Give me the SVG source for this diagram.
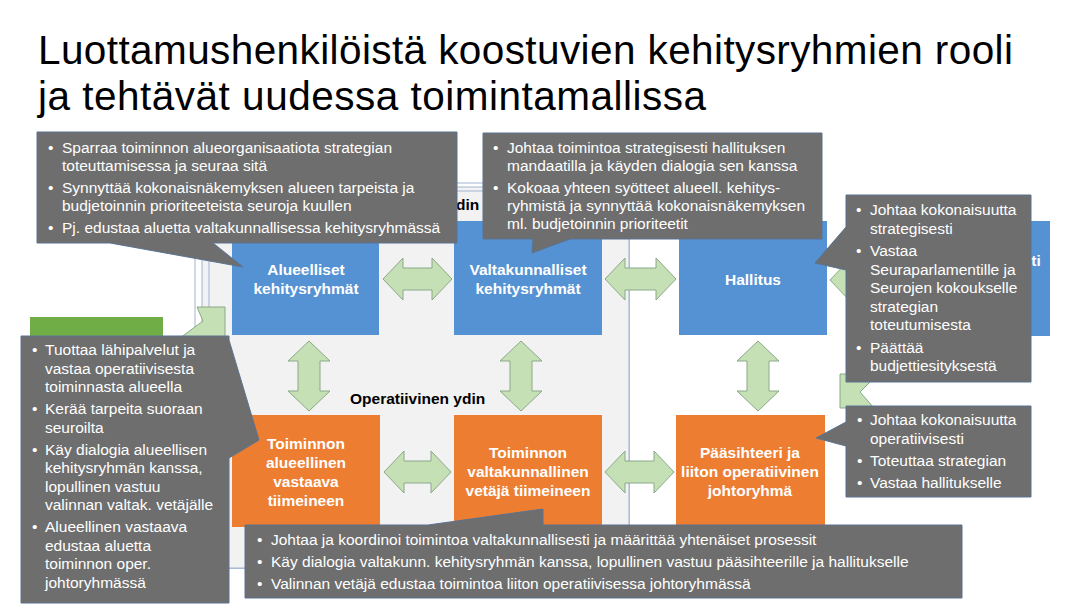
<svg xmlns="http://www.w3.org/2000/svg" width="1080" height="608" viewBox="0 0 1080 608">
<style>
.title{font-family:"Liberation Sans",Arial,sans-serif;font-size:40.5px;fill:#000}
.frame{fill:none;stroke:#9fb3cf;stroke-width:1}
.panel{fill:#f2f2f2;stroke:#9fb3cf;stroke-width:1}
.blue{fill:#5592d3}
.orange{fill:#ed7d31}
.green{fill:#70ad47}
.nt{font-family:"Liberation Sans",Arial,sans-serif;font-size:15.5px;font-weight:bold;fill:#fff;text-anchor:middle}
.lbl{font-family:"Liberation Sans",Arial,sans-serif;font-size:15.5px;font-weight:bold;fill:#000}
.arr{fill:#c6e0b5;stroke:#8aa88a;stroke-width:1}
.co{fill:#6e6e6e;stroke:#5b7391;stroke-width:1}
.ct{font-family:"Liberation Sans",Arial,sans-serif;font-size:15.5px;fill:#fff}
</style>
<rect width="1080" height="608" fill="#fff"/>
<g id="title">
<text class="title" x="38" y="64" textLength="975" lengthAdjust="spacing">Luottamushenkilöistä koostuvien kehitysryhmien rooli</text>
<text class="title" x="38" y="109.5" textLength="668" lengthAdjust="spacing">ja tehtävät uudessa toimintamallissa</text>
</g>
<g id="core-panel">
<rect class="frame" x="195" y="183" width="434" height="385"/>
<rect class="panel" x="202" y="187" width="427" height="381"/>
<rect class="panel" x="209" y="191" width="420" height="377"/>
<text class="lbl" x="456" y="210">din</text>
<text class="lbl" x="350" y="404">Operatiivinen ydin</text>
</g>
<g id="green-box"><rect class="green" x="30" y="317" width="133" height="24"/></g>
<g id="alueelliset"><rect class="blue" x="232" y="221" width="147" height="114"/>
<text class="nt" x="306" y="275">Alueelliset</text><text class="nt" x="306" y="294">kehitysryhmät</text></g>
<g id="valtakunnalliset"><rect class="blue" x="454" y="221" width="148" height="114"/>
<text class="nt" x="528" y="275">Valtakunnalliset</text><text class="nt" x="528" y="294">kehitysryhmät</text></g>
<g id="hallitus"><rect class="blue" x="679" y="221" width="148" height="114"/>
<text class="nt" x="753" y="285">Hallitus</text></g>
<g id="right-box"><rect class="blue" x="902" y="221" width="148" height="115"/>
<text class="nt" x="1036" y="266">ti</text></g>
<g id="toiminnon-alueellinen"><rect class="orange" x="232" y="415" width="148" height="112"/>
<text class="nt" x="306" y="449">Toiminnon</text><text class="nt" x="306" y="468">alueellinen</text><text class="nt" x="306" y="487">vastaava</text><text class="nt" x="306" y="506">tiimeineen</text></g>
<g id="toiminnon-valtakunnallinen"><rect class="orange" x="454" y="415" width="148" height="112"/>
<text class="nt" x="528" y="458">Toiminnon</text><text class="nt" x="528" y="477">valtakunnallinen</text><text class="nt" x="528" y="496">vetäjä tiimeineen</text></g>
<g id="paasihteeri"><rect class="orange" x="676" y="415" width="149" height="112"/>
<text class="nt" x="750" y="458">Pääsihteeri ja</text><text class="nt" x="750" y="477">liiton operatiivinen</text><text class="nt" x="750" y="496">johtoryhmä</text></g>
<g id="connectors">
<polygon class="arr" points="180,338 203,321 197,307 225,307 225,338"/>
<polygon class="arr" points="383,279 403,258 403,268 432,268 432,258 452,279 432,300 432,290 403,290 403,300"/>
<polygon class="arr" points="605,279 625,258 625,268 656,268 656,258 676,279 656,300 656,290 625,290 625,300"/>
<polygon class="arr" points="830,280 850,259 850,269 980,269 980,259 1000,280 980,301 980,291 850,291 850,301"/>
<polygon class="arr" points="384,472 404,451 404,461 431,461 431,451 451,472 431,493 431,483 404,483 404,493"/>
<polygon class="arr" points="605,472 625,451 625,461 654,461 654,451 674,472 654,493 654,483 625,483 625,493"/>
<polygon class="arr" points="309,341 330,361 320,361 320,391 330,391 309,411 288,391 298,391 298,361 288,361"/>
<polygon class="arr" points="521,341 542,361 532,361 532,391 542,391 521,411 500,391 510,391 510,361 500,361"/>
<polygon class="arr" points="758,341 779,361 769,361 769,391 779,391 758,411 737,391 747,391 747,361 737,361"/>
<polygon class="arr" points="840,374 878,374 860,392 874,408 840,408"/>
</g>
<g id="callout-alueelliset">
<path class="co" d="M37,132 H457 V243 H213 L243,267 L110,243 H37 Z"/>
<text class="ct" x="48" y="153">•</text><text class="ct" x="62" y="153">Sparraa toiminnon alueorganisaatiota strategian</text>
<text class="ct" x="62" y="171">toteuttamisessa ja seuraa sitä</text>
<text class="ct" x="48" y="193">•</text><text class="ct" x="62" y="193">Synnyttää kokonaisnäkemyksen alueen tarpeista ja</text>
<text class="ct" x="62" y="211">budjetoinnin prioriteeteista seuroja kuullen</text>
<text class="ct" x="48" y="233">•</text><text class="ct" x="62" y="233">Pj. edustaa aluetta valtakunnallisessa kehitysryhmässä</text>
</g>
<g id="callout-valtakunnalliset">
<path class="co" d="M483,133 H822 V239 H570 L532,253 L533,239 H483 Z"/>
<text class="ct" x="493" y="153">•</text><text class="ct" x="507" y="153">Johtaa toimintoa strategisesti hallituksen</text>
<text class="ct" x="507" y="171">mandaatilla ja käyden dialogia sen kanssa</text>
<text class="ct" x="493" y="193">•</text><text class="ct" x="507" y="193">Kokoaa yhteen syötteet alueell. kehitys-</text>
<text class="ct" x="507" y="211">ryhmistä ja synnyttää kokonaisnäkemyksen</text>
<text class="ct" x="507" y="229">ml. budjetoinnin prioriteetit</text>
</g>
<g id="callout-hallitus">
<path class="co" d="M846,195 H1031 V382 H846 V270 L815,263 L846,227 Z"/>
<text class="ct" x="856" y="215">•</text><text class="ct" x="870" y="215">Johtaa kokonaisuutta</text>
<text class="ct" x="870" y="233.5">strategisesti</text>
<text class="ct" x="856" y="256">•</text><text class="ct" x="870" y="256">Vastaa</text>
<text class="ct" x="870" y="274.5">Seuraparlamentille ja</text>
<text class="ct" x="870" y="293">Seurojen kokoukselle</text>
<text class="ct" x="870" y="311.5">strategian</text>
<text class="ct" x="870" y="330">toteutumisesta</text>
<text class="ct" x="856" y="352.5">•</text><text class="ct" x="870" y="352.5">Päättää</text>
<text class="ct" x="870" y="371">budjettiesityksestä</text>
</g>
<g id="callout-toiminnon-alueellinen">
<path class="co" d="M21,336 H229 V340 L259,440 L229,458 V603 H21 Z"/>
<text class="ct" x="32" y="355">•</text><text class="ct" x="45" y="355">Tuottaa lähipalvelut ja</text>
<text class="ct" x="45" y="373.5">vastaa operatiivisesta</text>
<text class="ct" x="45" y="392">toiminnasta alueella</text>
<text class="ct" x="32" y="414">•</text><text class="ct" x="45" y="414">Kerää tarpeita suoraan</text>
<text class="ct" x="45" y="432.5">seuroilta</text>
<text class="ct" x="32" y="454.5">•</text><text class="ct" x="45" y="454.5">Käy dialogia alueellisen</text>
<text class="ct" x="45" y="473">kehitysryhmän kanssa,</text>
<text class="ct" x="45" y="491.5">lopullinen vastuu</text>
<text class="ct" x="45" y="510">valinnan valtak. vetäjälle</text>
<text class="ct" x="32" y="532">•</text><text class="ct" x="45" y="532">Alueellinen vastaava</text>
<text class="ct" x="45" y="550.5">edustaa aluetta</text>
<text class="ct" x="45" y="569">toiminnon oper.</text>
<text class="ct" x="45" y="587.5">johtoryhmässä</text>
</g>
<g id="callout-paasihteeri">
<path class="co" d="M846,406 H1031 V497 H846 V446 L816,438 L846,422 Z"/>
<text class="ct" x="857" y="425">•</text><text class="ct" x="870" y="425">Johtaa kokonaisuutta</text>
<text class="ct" x="870" y="443.5">operatiivisesti</text>
<text class="ct" x="857" y="466">•</text><text class="ct" x="870" y="466">Toteuttaa strategian</text>
<text class="ct" x="857" y="488">•</text><text class="ct" x="870" y="488">Vastaa hallitukselle</text>
</g>
<g id="callout-toiminnon-valtakunnallinen">
<path class="co" d="M245,525 H428 L543,509 V525 H962 V598 H245 Z"/>
<text class="ct" x="257" y="545">•</text><text class="ct" x="271" y="545">Johtaa ja koordinoi toimintoa valtakunnallisesti ja määrittää yhtenäiset prosessit</text>
<text class="ct" x="257" y="567">•</text><text class="ct" x="271" y="567">Käy dialogia valtakunn. kehitysryhmän kanssa, lopullinen vastuu pääsihteerille ja hallitukselle</text>
<text class="ct" x="257" y="589">•</text><text class="ct" x="271" y="589">Valinnan vetäjä edustaa toimintoa liiton operatiivisessa johtoryhmässä</text>
</g>
</svg>
